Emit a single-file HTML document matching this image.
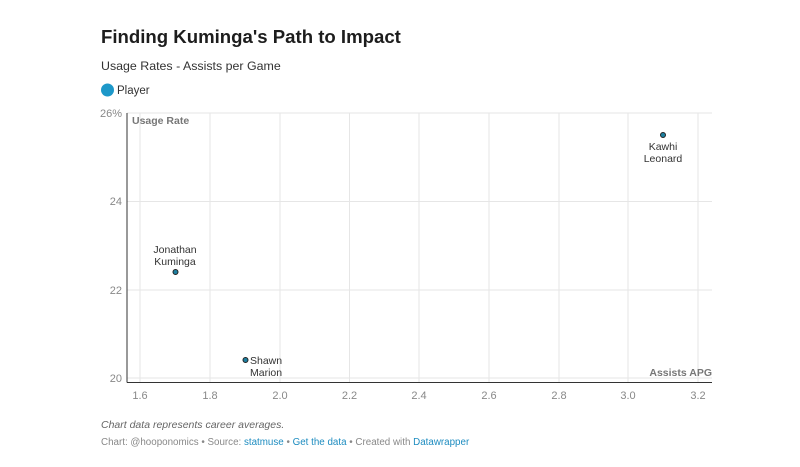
<!DOCTYPE html>
<html><head><meta charset="utf-8"><style>
body{margin:0;background:#fff;width:800px;height:462px;overflow:hidden;font-family:"Liberation Sans",sans-serif}
</style></head><body>
<svg width="800" height="462" xmlns="http://www.w3.org/2000/svg" font-family="Liberation Sans, sans-serif">
<text x="101" y="43" font-size="18.6" font-weight="bold" fill="#1d1d1d">Finding Kuminga's Path to Impact</text>
<text x="101" y="70" font-size="12.4" fill="#333">Usage Rates - Assists per Game</text>
<circle cx="107.5" cy="90" r="6.5" fill="#1d98c9"/>
<text x="117" y="94" font-size="11.5" fill="#333">Player</text>
<g stroke="#e6e6e6" stroke-width="1">
<line x1="127" y1="113" x2="712" y2="113"/>
<line x1="127" y1="201.5" x2="712" y2="201.5"/>
<line x1="127" y1="290" x2="712" y2="290"/>
<line x1="127" y1="378" x2="712" y2="378"/>
<line x1="140" y1="113" x2="140" y2="382"/>
<line x1="210" y1="113" x2="210" y2="382"/>
<line x1="280" y1="113" x2="280" y2="382"/>
<line x1="349.5" y1="113" x2="349.5" y2="382"/>
<line x1="419" y1="113" x2="419" y2="382"/>
<line x1="489" y1="113" x2="489" y2="382"/>
<line x1="559" y1="113" x2="559" y2="382"/>
<line x1="628" y1="113" x2="628" y2="382"/>
<line x1="698" y1="113" x2="698" y2="382"/>
</g>
<line x1="127" y1="113" x2="127" y2="382.5" stroke="#333" stroke-width="1"/>
<line x1="127" y1="382.5" x2="712" y2="382.5" stroke="#333" stroke-width="1"/>
<g font-size="11" fill="#888" text-anchor="end">
<text x="122" y="117">26%</text><text x="122" y="205">24</text><text x="122" y="294">22</text><text x="122" y="382">20</text>
</g>
<g font-size="11" fill="#888" text-anchor="middle">
<text x="140" y="399">1.6</text><text x="210" y="399">1.8</text><text x="280" y="399">2.0</text><text x="349.5" y="399">2.2</text><text x="419" y="399">2.4</text><text x="489" y="399">2.6</text><text x="559" y="399">2.8</text><text x="628" y="399">3.0</text><text x="698" y="399">3.2</text>
</g>
<text x="132" y="124" font-size="10.5" font-weight="bold" fill="#777">Usage Rate</text>
<text x="712" y="376" font-size="10.5" font-weight="bold" fill="#777" text-anchor="end">Assists APG</text>
<g fill="#1d7fa0" stroke="#222" stroke-width="1">
<circle cx="175.5" cy="272" r="2.5"/><circle cx="245.5" cy="360" r="2.5"/><circle cx="663" cy="135" r="2.5"/>
</g>
<g font-size="10.5" fill="#333">
<text x="175" y="253" text-anchor="middle">Jonathan</text><text x="175" y="265" text-anchor="middle">Kuminga</text>
<text x="250" y="364">Shawn</text><text x="250" y="376">Marion</text>
<text x="663" y="150" text-anchor="middle">Kawhi</text><text x="663" y="162" text-anchor="middle">Leonard</text>
</g>
<text x="101" y="428" font-size="10.5" font-style="italic" fill="#666">Chart data represents career averages.</text>
<text x="101" y="445" font-size="9.8" fill="#888">Chart: @hooponomics • Source: <tspan fill="#1d8cc0">statmuse</tspan> • <tspan fill="#1d8cc0">Get the data</tspan> • Created with <tspan fill="#1d8cc0">Datawrapper</tspan></text>
</svg>
</body></html>
